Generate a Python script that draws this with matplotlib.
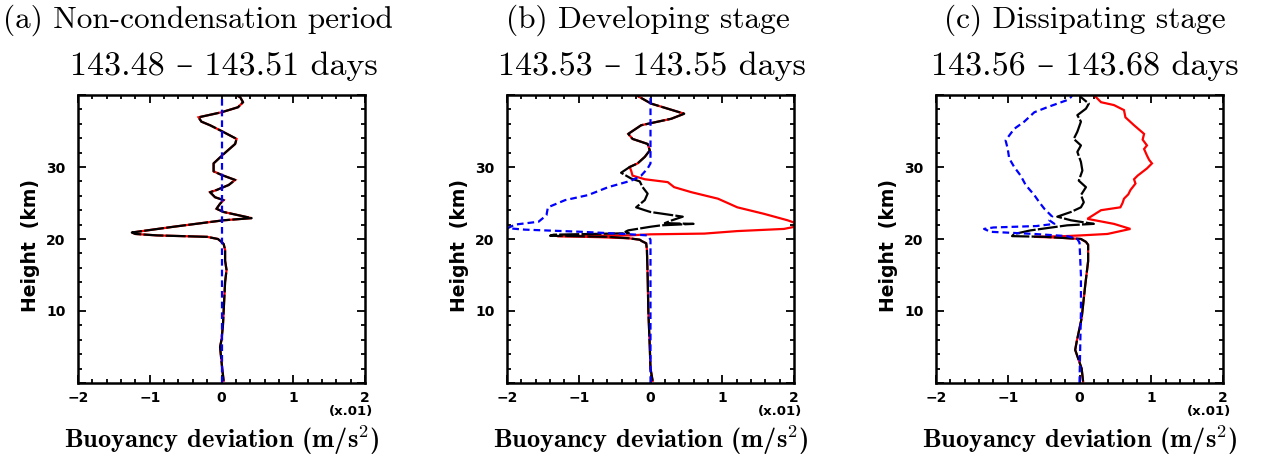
import numpy as np
import matplotlib
matplotlib.use("Agg")
import matplotlib.pyplot as plt
from matplotlib.ticker import MultipleLocator, FixedLocator

plt.rcParams['mathtext.fontset'] = 'cm'

# (a) non-condensation period: red and black profiles coincide, blue stays at zero
h_red_a = [0.3, 2, 4, 5, 6, 8, 10, 12, 14, 15.7, 17, 18.5, 19.3, 19.6, 20.0, 20.3,
           20.5, 20.7, 20.9, 21.7, 22.6, 22.9, 23.75, 24.2, 24.9, 25.4, 25.8, 26.5,
           26.8, 27.5, 28.2, 28.9, 29.4, 30.5, 31.8, 33.2, 33.9, 35.0, 35.8, 36.3,
           36.9, 37.6, 38.3, 39.0, 39.7, 40]
x_red_a = [0.03, 0.01, -0.01, -0.02, 0.0, 0.02, 0.03, 0.04, 0.05, 0.07, 0.05, 0.05,
           0.03, 0.0, -0.05, -0.2, -0.9, -1.2, -1.25, -0.67, 0.03, 0.42, 0.03, -0.07,
           -0.02, 0.03, -0.09, -0.16, -0.07, 0.10, 0.19, 0.0, -0.11, -0.11, 0.03, 0.19,
           0.21, 0.0, -0.16, -0.28, -0.32, 0.0, 0.23, 0.30, 0.26, 0.2]
h_blk_a = h_red_a
x_blk_a = x_red_a
h_blu_a = [0, 10, 20, 30, 40]
x_blu_a = [0, 0, 0, 0, 0]

# (b) developing stage
h_red_b = [0.3, 2, 5, 10, 15, 18.5, 19.4, 19.7, 19.9, 20.1, 20.25, 20.4, 20.5, 20.65,
           20.75, 21.1, 21.4, 21.9, 22.6, 23.5, 24.4, 25.6, 26.5, 27.2, 27.9, 28.3,
           28.8, 29.5, 30.0, 30.5, 31.4, 32.3, 33.2, 33.9, 34.6, 35.8, 36.7, 37.4,
           38.8, 39.7, 40]
x_red_b = [0.03, 0.0, -0.01, -0.03, -0.04, -0.05, -0.06, -0.12, -0.15, -0.3, -0.7,
           -1.3, -0.3, 0.0, 0.75, 1.21, 1.86, 2.11, 1.91, 1.58, 1.21, 0.94, 0.57, 0.33,
           0.24, -0.08, -0.25, -0.27, -0.29, -0.18, -0.08, -0.01, -0.04, -0.25, -0.31,
           -0.13, 0.29, 0.47, 0.01, -0.15, -0.2]
h_blk_b = [0.3, 2, 5, 10, 15, 18.5, 19.4, 19.7, 19.9, 20.1, 20.3, 20.45, 20.6, 20.8,
           21.0, 21.2, 21.7, 21.9, 22.1, 22.2, 22.6, 23.1, 23.75, 24.0, 24.4, 25.4,
           26.3, 27.2, 28.0, 28.4, 29.2, 30.0, 30.5, 31.4, 32.3, 33.2, 33.9, 34.6, 35.8,
           36.7, 37.4, 38.8, 39.7, 40]
x_blk_b = [0.03, 0.0, -0.01, -0.03, -0.04, -0.05, -0.06, -0.12, -0.15, -0.3, -0.6,
           -1.4, -1.35, -0.3, -0.35, -0.31, 0.0, 0.15, 0.6, 0.2, 0.3, 0.45, 0.0, -0.08,
           -0.2, -0.08, -0.04, -0.11, -0.15, -0.27, -0.41, -0.29, -0.18, -0.08, -0.01,
           -0.04, -0.25, -0.31, -0.13, 0.29, 0.47, 0.01, -0.15, -0.2]
h_blu_b = [0, 10, 19.9, 20.5, 20.7, 21.0, 21.3, 21.5, 22.0, 22.4, 23.3, 24.4, 25.4,
           26.1, 27.2, 28.1, 28.8, 29.8, 30.5, 40]
x_blu_b = [0, 0, 0, -0.04, -0.36, -0.96, -1.75, -1.99, -1.89, -1.56, -1.45, -1.43,
           -1.19, -0.87, -0.59, -0.27, -0.13, -0.04, 0.0, 0.0]

# (c) dissipating stage
h_red_c = [0.2, 2.0, 4.6, 5.7, 9.0, 13.6, 16.9, 19.2, 19.6, 20.0, 20.2, 20.3, 20.4,
           20.5, 20.7, 21.4, 22.1, 22.8, 24.0, 24.4, 25.0, 25.6, 26.2, 26.8, 27.7,
           28.3, 28.8, 29.8, 30.5, 31.0, 31.6, 32.5, 33.0, 33.8, 34.6, 35.8, 36.9,
           37.9, 38.6, 39.0, 40]
x_red_c = [0.05, 0.03, -0.06, -0.04, 0.03, 0.08, 0.12, 0.12, 0.09, 0.02, -0.3, -0.63,
           -0.2, 0.02, 0.39, 0.71, 0.48, 0.11, 0.3, 0.57, 0.6, 0.62, 0.68, 0.71, 0.78,
           0.76, 0.81, 0.94, 1.01, 0.97, 0.94, 0.9, 0.94, 0.88, 0.9, 0.76, 0.64, 0.62,
           0.48, 0.3, 0.2]
h_blk_c = [0.2, 2.0, 4.6, 5.7, 9.0, 13.6, 16.9, 19.2, 19.6, 20.0, 20.3, 20.4, 20.7,
           21.2, 21.9, 22.1, 22.6, 23.1, 23.75, 24.4, 25.1, 26.1, 27.2, 28.1, 29.5,
           30.7, 32.1, 33.0, 33.9, 34.9, 36.3, 37.2, 38.1, 38.8, 39.7, 40]
x_blk_c = [0.05, 0.03, -0.06, -0.04, 0.03, 0.08, 0.12, 0.12, 0.09, 0.02, -0.49, -0.94,
           -0.91, -0.68, -0.17, 0.2, -0.12, -0.31, -0.12, 0.02, 0.06, 0.02, 0.09, -0.01,
           0.04, 0.02, -0.03, 0.02, -0.08, -0.03, 0.02, -0.03, 0.09, 0.13, 0.02, 0.0]
h_blu_c = [0, 5, 10, 15, 19.5, 20.0, 20.4, 20.7, 21.0, 21.4, 21.6, 21.8, 22.1, 22.6,
           23.1, 24.2, 25.1, 26.1, 27.5, 28.8, 30.0, 31.2, 32.5, 33.7, 35.3, 36.3,
           37.6, 38.3, 39.3, 39.7, 40]
x_blu_c = [0.0, 0.01, 0.02, 0.02, 0.0, -0.03, -0.17, -0.63, -1.24, -1.33, -1.2, -0.6,
           -0.35, -0.42, -0.38, -0.49, -0.56, -0.63, -0.75, -0.82, -0.91, -0.98, -1.0,
           -1.03, -0.91, -0.77, -0.63, -0.45, -0.17, -0.12, -0.1]

titles = ["(a) Non-condensation period", "(b) Developing stage", "(c) Dissipating stage"]
periods = ["143.48 \u2013 143.51 days", "143.53 \u2013 143.55 days", "143.56 \u2013 143.68 days"]
title_x = [198, 648, 1085]
period_x = [224, 652, 1085]
axes_left = [78, 507, 936]

panels = [
    (h_red_a, x_red_a, h_blk_a, x_blk_a, h_blu_a, x_blu_a),
    (h_red_b, x_red_b, h_blk_b, x_blk_b, h_blu_b, x_blu_b),
    (h_red_c, x_red_c, h_blk_c, x_blk_c, h_blu_c, x_blu_c),
]

W, H = 1268, 465
fig = plt.figure(figsize=(W / 100, H / 100), dpi=100)
tick_font = dict(family='DejaVu Sans', weight='bold', size=10)
cm_roman = ['cmr10', 'DejaVu Serif']

for i, (hr, xr, hk, xk, hb, xb) in enumerate(panels):
    ax = fig.add_axes([axes_left[i] / W, 1 - 383 / H, 287 / W, 288 / H])
    ax.plot(xr, hr, color='red', lw=1.6, solid_joinstyle='miter')
    ax.plot(xk, hk, color='black', lw=1.6, dashes=(9, 1.0))
    ax.plot(xb, hb, color='blue', lw=1.6, dashes=(3, 1.8))

    ax.set_xlim(-2, 2)
    ax.set_ylim(0, 40)
    ax.xaxis.set_minor_locator(MultipleLocator(0.2))
    ax.yaxis.set_minor_locator(MultipleLocator(2))
    ax.set_xticks([-2, -1, 0, 1, 2])
    ax.set_xticklabels(['\u22122', '\u22121', '0', '1', '2'], fontdict=tick_font)
    ax.set_yticks([0, 10, 20, 30, 40])
    ax.set_yticklabels(['', '10', '20', '30', ''], fontdict=tick_font)
    ax.tick_params(which='both', direction='in', top=True, right=True, width=1.3)
    ax.tick_params(which='major', length=6)
    ax.tick_params(which='minor', length=3)
    ax.tick_params(axis='x', pad=6)
    ax.tick_params(axis='y', pad=9)
    for sp in ax.spines.values():
        sp.set_linewidth(1.8)

    # scale factor note under the right end of the x axis
    ax.text(0.951, -0.1, '(x.01)', transform=ax.transAxes, ha='center', va='center',
            fontdict=dict(family='DejaVu Sans', weight='bold', size=9.5))
    ax.text(-0.164, 0.476, 'Height  (km)', transform=ax.transAxes, rotation=90,
            ha='center', va='center',
            fontdict=dict(family='DejaVu Sans', weight='bold', size=13.5))
    ax.text(0.5, -0.225, r'Buoyancy deviation (m/s$^{\mathbf{2}}$)',
            transform=ax.transAxes, ha='center', va='baseline',
            family=['cmb10', 'DejaVu Serif'], fontsize=19)

    fig.text(title_x[i] / W, 1 - 28 / H, titles[i], ha='center', va='baseline',
             family=cm_roman, fontsize=22.5)
    fig.text(period_x[i] / W, 1 - 75 / H, periods[i], ha='center', va='baseline',
             family=cm_roman, fontsize=24.5)

fig.savefig('out.png', dpi=100)
